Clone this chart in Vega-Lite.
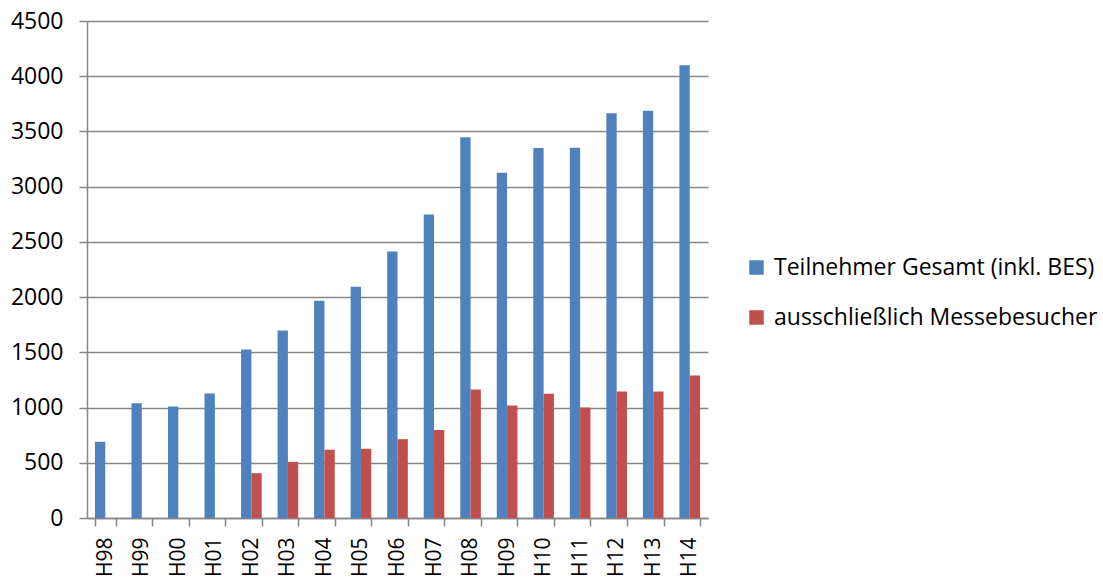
{
  "$schema": "https://vega.github.io/schema/vega-lite/v6.json",
  "autosize": "none",
  "width": 621,
  "height": 497,
  "padding": {"left": 87, "top": 21, "right": 395, "bottom": 63},
  "background": "white",
  "data": {
    "values": [
      {"jahr": "H98", "serie": "Teilnehmer Gesamt (inkl. BES)", "wert": 690},
      {"jahr": "H99", "serie": "Teilnehmer Gesamt (inkl. BES)", "wert": 1040},
      {"jahr": "H00", "serie": "Teilnehmer Gesamt (inkl. BES)", "wert": 1010},
      {"jahr": "H01", "serie": "Teilnehmer Gesamt (inkl. BES)", "wert": 1128},
      {"jahr": "H02", "serie": "Teilnehmer Gesamt (inkl. BES)", "wert": 1526},
      {"jahr": "H03", "serie": "Teilnehmer Gesamt (inkl. BES)", "wert": 1698},
      {"jahr": "H04", "serie": "Teilnehmer Gesamt (inkl. BES)", "wert": 1967},
      {"jahr": "H05", "serie": "Teilnehmer Gesamt (inkl. BES)", "wert": 2094},
      {"jahr": "H06", "serie": "Teilnehmer Gesamt (inkl. BES)", "wert": 2414},
      {"jahr": "H07", "serie": "Teilnehmer Gesamt (inkl. BES)", "wert": 2749},
      {"jahr": "H08", "serie": "Teilnehmer Gesamt (inkl. BES)", "wert": 3447},
      {"jahr": "H09", "serie": "Teilnehmer Gesamt (inkl. BES)", "wert": 3127},
      {"jahr": "H10", "serie": "Teilnehmer Gesamt (inkl. BES)", "wert": 3350},
      {"jahr": "H11", "serie": "Teilnehmer Gesamt (inkl. BES)", "wert": 3353},
      {"jahr": "H12", "serie": "Teilnehmer Gesamt (inkl. BES)", "wert": 3664},
      {"jahr": "H13", "serie": "Teilnehmer Gesamt (inkl. BES)", "wert": 3688},
      {"jahr": "H14", "serie": "Teilnehmer Gesamt (inkl. BES)", "wert": 4099},
      {"jahr": "H02", "serie": "ausschließlich Messebesucher", "wert": 406},
      {"jahr": "H03", "serie": "ausschließlich Messebesucher", "wert": 509},
      {"jahr": "H04", "serie": "ausschließlich Messebesucher", "wert": 618},
      {"jahr": "H05", "serie": "ausschließlich Messebesucher", "wert": 627},
      {"jahr": "H06", "serie": "ausschließlich Messebesucher", "wert": 714},
      {"jahr": "H07", "serie": "ausschließlich Messebesucher", "wert": 797},
      {"jahr": "H08", "serie": "ausschließlich Messebesucher", "wert": 1164},
      {"jahr": "H09", "serie": "ausschließlich Messebesucher", "wert": 1019},
      {"jahr": "H10", "serie": "ausschließlich Messebesucher", "wert": 1125},
      {"jahr": "H11", "serie": "ausschließlich Messebesucher", "wert": 1001},
      {"jahr": "H12", "serie": "ausschließlich Messebesucher", "wert": 1146},
      {"jahr": "H13", "serie": "ausschließlich Messebesucher", "wert": 1146},
      {"jahr": "H14", "serie": "ausschließlich Messebesucher", "wert": 1291}
    ]
  },
  "mark": {"type": "bar", "cornerRadius": 0},
  "encoding": {
    "x": {
      "field": "jahr",
      "type": "nominal",
      "sort": null,
      "title": null,
      "scale": {"paddingInner": 0.435, "paddingOuter": 0.2175},
      "axis": {
        "labelAngle": -90,
        "labelFont": "Open Sans",
        "labelFontSize": 21,
        "labelColor": "#000000",
        "labelPadding": 11,
        "tickBand": "extent",
        "tickSize": 8,
        "tickColor": "#868686",
        "tickWidth": 1.5,
        "domainColor": "#868686",
        "domainWidth": 1.5,
        "grid": false
      }
    },
    "xOffset": {
      "field": "serie",
      "type": "nominal",
      "sort": ["Teilnehmer Gesamt (inkl. BES)", "ausschließlich Messebesucher"],
      "scale": {"paddingInner": 0, "paddingOuter": 0}
    },
    "y": {
      "field": "wert",
      "type": "quantitative",
      "title": null,
      "scale": {"domain": [0, 4500], "nice": false},
      "axis": {
        "values": [0, 500, 1000, 1500, 2000, 2500, 3000, 3500, 4000, 4500],
        "format": "d",
        "labelFont": "Open Sans",
        "labelFontSize": 23,
        "labelColor": "#000000",
        "labelPadding": 16,
        "tickSize": 8,
        "tickColor": "#868686",
        "tickWidth": 1.5,
        "domainColor": "#868686",
        "domainWidth": 1.5,
        "grid": true,
        "gridColor": "#868686",
        "gridWidth": 1.5
      }
    },
    "color": {
      "field": "serie",
      "type": "nominal",
      "sort": ["Teilnehmer Gesamt (inkl. BES)", "ausschließlich Messebesucher"],
      "scale": {"range": ["#4F81BD", "#C0504D"]},
      "legend": {
        "title": null,
        "orient": "none",
        "legendX": 658,
        "legendY": 235,
        "padding": 0,
        "symbolType": "square",
        "symbolSize": 210,
        "symbolStrokeWidth": 0,
        "symbolOpacity": 1,
        "labelFont": "Open Sans",
        "labelFontSize": 23,
        "labelColor": "#000000",
        "labelOffset": 6,
        "labelLimit": 450,
        "rowPadding": 26
      }
    }
  },
  "config": {
    "view": {"stroke": null},
    "axis": {"labelFlush": false, "labelOverlap": false}
  }
}
